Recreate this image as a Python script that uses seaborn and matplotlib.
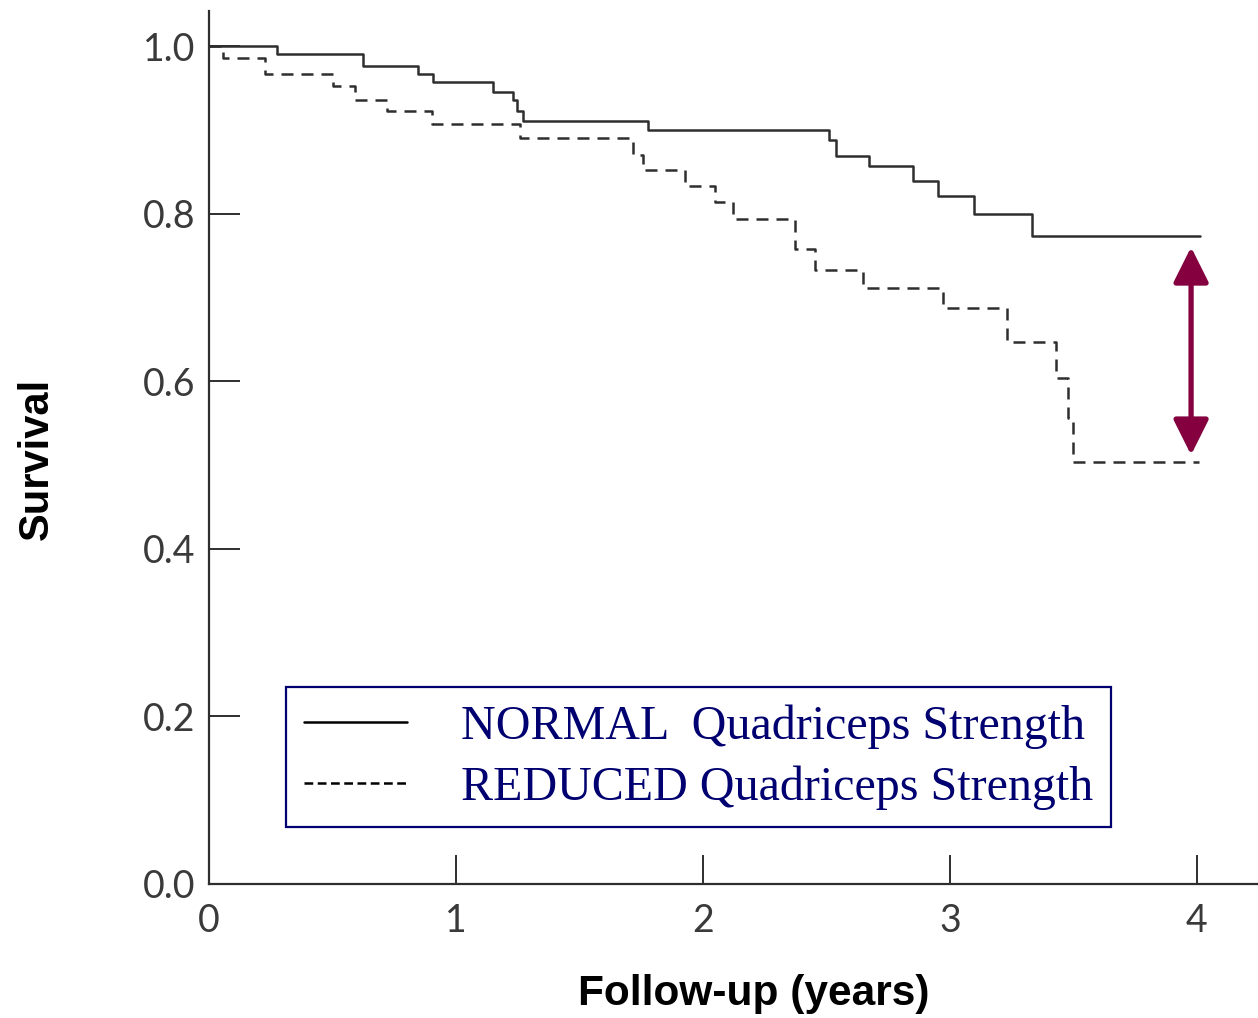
import numpy as np
import pandas as pd
import matplotlib
matplotlib.use("Agg")
import matplotlib.pyplot as plt
import seaborn as sns
from matplotlib.lines import Line2D

# ---- data ----
normal_time = [0, 0.275, 0.623, 0.846, 0.907, 1.150, 1.231, 1.247, 1.271, 1.777,
               2.510, 2.538, 2.672, 2.850, 2.951, 3.097, 3.332, 4.012]
normal_surv = [1.0, 0.990, 0.976, 0.967, 0.957, 0.945, 0.936, 0.922, 0.910, 0.900,
               0.888, 0.869, 0.857, 0.839, 0.821, 0.800, 0.773, 0.773]

reduced_time = [0, 0.057, 0.227, 0.502, 0.591, 0.721, 0.903, 1.259, 1.717, 1.757,
                1.927, 2.049, 2.121, 2.372, 2.453, 2.648, 2.972, 3.231, 3.429, 3.478,
                3.498, 4.008]
reduced_surv = [1.0, 0.986, 0.967, 0.952, 0.936, 0.922, 0.907, 0.890, 0.870, 0.852,
                0.833, 0.814, 0.794, 0.758, 0.733, 0.711, 0.687, 0.647, 0.604, 0.556,
                0.504, 0.504]

group_labels = ["NORMAL  Quadriceps Strength", "REDUCED Quadriceps Strength"]
x_ticks = [0, 1, 2, 3, 4]
y_ticks = [0.0, 0.2, 0.4, 0.6, 0.8, 1.0]
arrow_x = 3.976
arrow_top = 0.760
arrow_bottom = 0.512

df = pd.concat([
    pd.DataFrame({"time": normal_time, "surv": normal_surv, "group": group_labels[0]}),
    pd.DataFrame({"time": reduced_time, "surv": reduced_surv, "group": group_labels[1]}),
], ignore_index=True)

sns.set_theme(style="white")
W, H = 1258, 1018
fig = plt.figure(figsize=(W / 100, H / 100), dpi=100)
ax = fig.add_axes([209 / W, (H - 884) / H, (W - 209) / W, (884 - 11) / H])

line_col = "#2e2e2e"
sns.lineplot(data=df, x="time", y="surv", hue="group", style="group",
             palette={group_labels[0]: line_col, group_labels[1]: line_col},
             dashes={group_labels[0]: "", group_labels[1]: (4.8, 3.2)},
             drawstyle="steps-post", estimator=None, sort=False,
             linewidth=1.8, ax=ax, legend=False)

ax.set_xlim(0, (W - 209) / 247)
ax.set_ylim(0, (884 - 11) / 838)
ax.set_xticks(x_ticks)
ax.set_xticklabels([str(t) for t in x_ticks])
ax.set_yticks(y_ticks)
ax.set_yticklabels([f"{t:.1f}" for t in y_ticks])

for s in ["top", "right"]:
    ax.spines[s].set_visible(False)
for s in ["left", "bottom"]:
    ax.spines[s].set_color(line_col)
    ax.spines[s].set_linewidth(1.6)

ax.tick_params(axis="y", which="major", left=True, direction="in", length=22,
               width=1.4, color=line_col, pad=10, labelcolor="#3a3a3a")
ax.tick_params(axis="x", which="major", bottom=True, direction="in", length=21,
               width=1.4, color=line_col, pad=14, labelcolor="#3a3a3a")
for lab in ax.get_xticklabels() + ax.get_yticklabels():
    lab.set_fontfamily(["Lato", "DejaVu Sans"])
    lab.set_fontweight("normal")
    lab.set_fontsize(27)

ax.set_xlabel("Follow-up (years)", fontsize=30.5, fontweight="bold",
              family=["Liberation Sans", "DejaVu Sans"], color="black", va="center")
ax.xaxis.set_label_coords(0.5195, -0.126)
ax.set_ylabel("Survival", fontsize=30, fontweight="bold",
              family=["Liberation Sans", "DejaVu Sans"], color="black", va="center")
ax.yaxis.set_label_coords(-0.164, 0.487)

# arrow
ax.annotate("", xy=(arrow_x, arrow_bottom), xytext=(arrow_x, arrow_top),
            arrowprops=dict(arrowstyle="<|-|>,head_length=1.08,head_width=0.54",
                            color="#84003f", lw=3.8, shrinkA=0, shrinkB=0,
                            mutation_scale=20))

# legend
handles = [Line2D([0], [0], color="black", lw=1.8),
           Line2D([0], [0], color="black", lw=1.8, dashes=(3.5, 1.8))]
leg = ax.legend(handles, group_labels, loc="upper left",
                bbox_to_anchor=(286 / W, 1 - 687 / H), bbox_transform=fig.transFigure,
                borderaxespad=0, fancybox=False, frameon=True,
                prop=dict(family=["Liberation Serif", "DejaVu Serif"], size=34.6),
                labelcolor="#000070", handlelength=2.15, handletextpad=1.12,
                labelspacing=0.33, borderpad=0.37)
fr = leg.get_frame()
fr.set_edgecolor("#000070")
fr.set_linewidth(1.6)
fr.set_facecolor("white")
fr.set_alpha(1)

fig.savefig("out.png", dpi=100)
